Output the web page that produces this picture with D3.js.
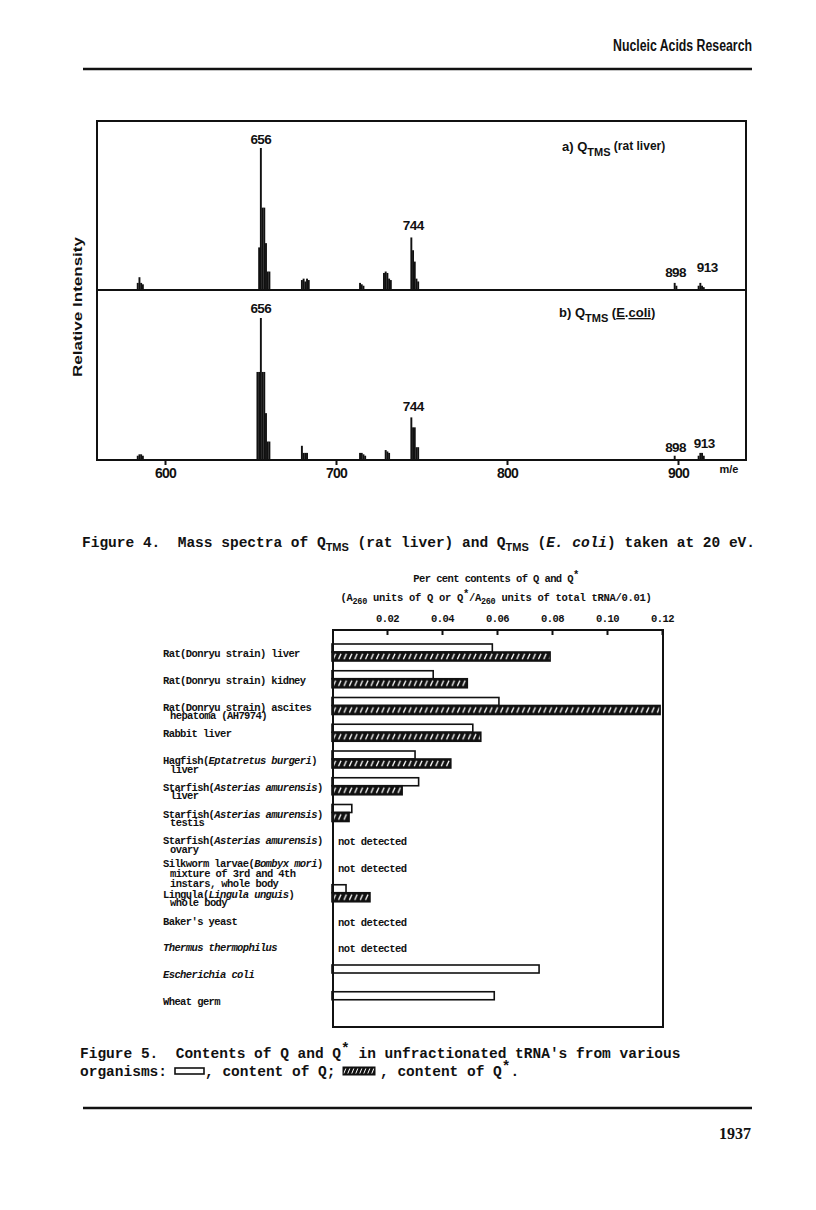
<!DOCTYPE html>
<html><head><meta charset="utf-8">
<script src="https://cdn.jsdelivr.net/npm/d3@7/dist/d3.min.js"></script>
<style>
html,body{margin:0;padding:0;background:#fff}
svg text{white-space:pre}
</style></head>
<body>
<svg id="page" width="816" height="1210" xmlns="http://www.w3.org/2000/svg"></svg>
<script>
// ===== Figure 4 data (m/e vs relative intensity, % of base peak) =====
const massTicks = [600, 700, 800, 900];
const ratLiverMz  = [584,585,586,587, 655,656,657,658,659,660,661, 680,681,682,683,684, 714,715,716, 728,729,730,731,732, 744,745,746,747,748, 898,899, 912,913,914,915];
const ratLiverInt = [5,9,5,4, 30,100,58,58,33,13,13, 7,8,6,8,7, 5,4,3, 12,13,12,8,7, 37,28,20,8,6, 5,3, 3,5,3,2];
const eColiMz  = [584,585,586,587, 654,655,656,657,658,659,660,661, 680,681,682,683, 714,715,716,717, 729,730,731, 744,745,746,747,748, 898, 912,913,914,915];
const eColiInt = [3,4,4,3, 62,62,100,62,62,33,13,13, 10,5,5,5, 5,5,4,3, 7,6,5, 30,23,23,9,9, 3, 3,5,5,3];
const labelledPeaks = [656, 744, 898, 913];

// ===== Figure 5 data (per cent contents, A260 units / total tRNA / 0.01) =====
const organisms = [
  ["Rat(Donryu strain) liver"],
  ["Rat(Donryu strain) kidney"],
  ["Rat(Donryu strain) ascites", "hepatoma (AH7974)"],
  ["Rabbit liver"],
  ["Hagfish(_Eptatretus burgeri_)", "liver"],
  ["Starfish(_Asterias amurensis_)", "liver"],
  ["Starfish(_Asterias amurensis_)", "testis"],
  ["Starfish(_Asterias amurensis_)", "ovary"],
  ["Silkworm larvae(_Bombyx mori_)", "mixture of 3rd and 4th", "instars, whole body"],
  ["Lingula(_Lingula unguis_)", "whole body"],
  ["Baker's yeast"],
  ["_Thermus thermophilus_"],
  ["_Escherichia coli_"],
  ["Wheat germ"]
];
const qContent     = [0.0583, 0.0368, 0.0607, 0.0512, 0.0302, 0.0315, 0.0072, null, null, 0.0051, null, null, 0.0753, 0.0590];
const qStarContent = [0.0793, 0.0492, 0.1193, 0.0541, 0.0432, 0.0255, 0.0062, null, null, 0.0138, null, null, null, null];
const contentTicks = [0.02, 0.04, 0.06, 0.08, 0.10, 0.12];

const SANS = "'Liberation Sans', Arial, Helvetica, sans-serif";
const MONO = "'Liberation Mono', 'Courier New', monospace";
const SERIF = "'Liberation Serif', 'Times New Roman', serif";
const INK = "#111";

const svg = d3.select("#page");
svg.append("rect").attr("width", 816).attr("height", 1210).attr("fill", "#fff");

function addRich(g, x, y, segs, base) {
  const t = g.append("text").attr("x", x).attr("y", y)
    .attr("font-family", base.family).attr("font-size", base.size)
    .attr("font-weight", base.weight || "normal").attr("fill", INK);
  if (base.anchor) t.attr("text-anchor", base.anchor);
  if (base.ls !== undefined) t.attr("letter-spacing", base.ls);
  let shift = 0;
  segs.forEach(s => {
    const ts = t.append("tspan").text(s.t);
    const target = s.shift || 0;
    if (target !== shift) { ts.attr("dy", target - shift); shift = target; }
    if (s.size) ts.attr("font-size", s.size);
    if (s.family) ts.attr("font-family", s.family);
    if (s.italic) ts.attr("font-style", "italic");
    if (s.ul) ts.attr("text-decoration", "underline");
    if (s.weight) ts.attr("font-weight", s.weight);
    if (s.ls !== undefined) ts.attr("letter-spacing", s.ls);
  });
  return t;
}
function parseItalic(str) {
  return str.split("_").map((t, i) => ({ t, italic: i % 2 === 1 })).filter(s => s.t.length);
}

// ===== Page header =====
svg.append("text").attr("x", 752).attr("y", 51).attr("text-anchor", "end")
  .attr("font-family", SANS).attr("font-size", 16).attr("font-weight", "bold").attr("fill", INK)
  .attr("textLength", 139).attr("lengthAdjust", "spacingAndGlyphs").text("Nucleic Acids Research");
svg.append("line").attr("x1", 83).attr("x2", 752).attr("y1", 69).attr("y2", 69)
  .attr("stroke", INK).attr("stroke-width", 2.5);

// ===== Figure 4: mass spectra =====
const f4 = svg.append("g");
const x4 = d3.scaleLinear().domain([600, 900]).range([165, 678]);
const panels = [
  { mz: ratLiverMz, inten: ratLiverInt, y: d3.scaleLinear().domain([0, 100]).range([290, 148]), base: 290 },
  { mz: eColiMz, inten: eColiInt, y: d3.scaleLinear().domain([0, 100]).range([460, 318]), base: 460 }
];
panels.forEach(p => {
  const data = p.mz.map((m, i) => ({ m, v: p.inten[i] }));
  f4.append("g").selectAll("rect").data(data).join("rect")
    .attr("x", d => x4(d.m - 0.5))
    .attr("width", d => x4(d.m + 0.5) - x4(d.m - 0.5) + 0.2)
    .attr("y", d => p.y(d.v))
    .attr("height", d => p.base - p.y(d.v))
    .attr("fill", INK);
});
f4.append("rect").attr("x", 97).attr("y", 121).attr("width", 649).attr("height", 339)
  .attr("fill", "none").attr("stroke", INK).attr("stroke-width", 2);
f4.append("line").attr("x1", 97).attr("x2", 746).attr("y1", 290).attr("y2", 290)
  .attr("stroke", INK).attr("stroke-width", 2);

function peakTop(p, m) { const i = p.mz.indexOf(m); return p.y(p.inten[i]); }
const labGap = [
  { 656: [0, 4], 744: [2, 7.5], 898: [1, 6], 913: [7, 11] },
  { 656: [0, 5], 744: [2, 6.5], 898: [1, 4], 913: [4, 5] }
];
panels.forEach((p, pi) => {
  f4.append("g").selectAll("text").data(labelledPeaks).join("text")
    .attr("x", m => x4(m) + labGap[pi][m][0])
    .attr("y", m => peakTop(p, m) - labGap[pi][m][1])
    .attr("text-anchor", "middle").attr("font-family", SANS).attr("font-size", 13.5)
    .attr("font-weight", "bold").attr("fill", INK).attr("letter-spacing", -0.6)
    .text(m => m);
});

addRich(f4, 562, 151, [
  { t: "a) Q" }, { t: "TMS", shift: 5, size: 11 }, { t: " (rat liver)", shift: -1, size: 12 }
], { family: SANS, size: 13, weight: "bold" });
addRich(f4, 559, 317, [
  { t: "b) Q" }, { t: "TMS", shift: 5, size: 11 }, { t: " (", shift: 0 }, { t: "E", ul: true }, { t: "." },
  { t: "coli", ul: true }, { t: ")" }
], { family: SANS, size: 13, weight: "bold" });

const ax4 = f4.append("g").attr("transform", "translate(0,460)")
  .call(d3.axisBottom(x4).tickValues(massTicks).tickSize(5).tickFormat(d3.format("d")));
ax4.select(".domain").remove();
ax4.selectAll(".tick line").attr("stroke", INK).attr("stroke-width", 2);
ax4.selectAll(".tick text").attr("y", 18).attr("dy", 0).attr("font-family", SANS)
  .attr("font-size", 14).attr("font-weight", "bold").attr("fill", INK).attr("letter-spacing", -0.8);
f4.append("text").attr("x", 729).attr("y", 473).attr("text-anchor", "middle")
  .attr("font-family", SANS).attr("font-size", 11).attr("font-weight", "bold").attr("fill", INK).text("m/e");

f4.append("text").attr("transform", "translate(82,307) rotate(-90)").attr("text-anchor", "middle")
  .attr("font-family", SANS).attr("font-size", 13).attr("font-weight", "bold").attr("fill", INK)
  .attr("textLength", 140).attr("lengthAdjust", "spacingAndGlyphs").text("Relative Intensity");

addRich(svg, 82, 547, [
  { t: "Figure 4.  Mass spectra of Q" }, { t: "TMS", shift: 4, size: 11, family: SANS },
  { t: " (rat liver) and Q" }, { t: "TMS", shift: 4, size: 11, family: SANS },
  { t: " (" }, { t: "E. coli", italic: true }, { t: ") taken at 20 eV." }
], { family: MONO, size: 14.5, weight: "bold" });

// ===== Figure 5: bar chart =====
const f5 = svg.append("g");
const LBL = { family: MONO, size: 10.5, weight: "bold", ls: -0.6 };
const FRAME_TOP = 630;
const x5 = d3.scaleLinear().domain([0, 0.12]).range([332, 662]);
const y5 = d3.scaleBand().domain(d3.range(organisms.length)).range([640, 640 + 26.75 * organisms.length]).padding(0);

addRich(f5, 496, 582, [{ t: "Per cent contents of Q and Q" }, { t: "*", shift: -4 }], { ...LBL, anchor: "middle" });
addRich(f5, 496, 601, [
  { t: "(A" }, { t: "260", shift: 3, size: 8.5 }, { t: " units of Q or Q" }, { t: "*", shift: -4 },
  { t: "/A" }, { t: "260", shift: 3, size: 8.5 }, { t: " units of total tRNA/0.01)" }
], { ...LBL, ls: -0.3, anchor: "middle" });

const defs = svg.append("defs");
const barH = 9;
qStarContent.forEach((v, i) => {
  if (v == null) return;
  const pat = defs.append("pattern").attr("id", "hatch" + i).attr("patternUnits", "userSpaceOnUse")
    .attr("x", x5(0)).attr("y", y5(i) + 12).attr("width", 5.4).attr("height", barH);
  pat.append("rect").attr("width", 5.4).attr("height", barH).attr("fill", INK);
  pat.append("line").attr("x1", 1.2).attr("y1", barH - 1.8).attr("x2", 3.6).attr("y2", 1.8)
    .attr("stroke", "#fff").attr("stroke-width", 1.3);
});

const rows = organisms.map((lab, i) => ({ i, lab, q: qContent[i], qs: qStarContent[i] }));
f5.append("g").selectAll("rect").data(rows.filter(d => d.q != null)).join("rect")
  .attr("x", x5(0)).attr("y", d => y5(d.i) + 4)
  .attr("width", d => x5(d.q) - x5(0)).attr("height", 8)
  .attr("fill", "#fff").attr("stroke", INK).attr("stroke-width", 1.6);
f5.append("g").selectAll("rect").data(rows.filter(d => d.qs != null)).join("rect")
  .attr("x", x5(0)).attr("y", d => y5(d.i) + 12)
  .attr("width", d => x5(d.qs) - x5(0)).attr("height", barH)
  .attr("fill", d => "url(#hatch" + d.i + ")").attr("stroke", INK).attr("stroke-width", 1.6);
f5.append("g").selectAll("text").data(rows.filter(d => d.q == null && d.qs == null)).join("text")
  .attr("x", 338).attr("y", d => y5(d.i) + 18)
  .attr("font-family", MONO).attr("font-size", 10.5).attr("font-weight", "bold")
  .attr("letter-spacing", -0.6).attr("fill", INK).text("not detected");

rows.forEach(d => {
  const n = d.lab.length;
  const first = y5(d.i) + (n === 3 ? 13 : 17);
  const step = n === 3 ? 10 : 8.5;
  d.lab.forEach((line, li) => {
    addRich(f5, 163 + (li > 0 ? 7 : 0), first + li * step, parseItalic(line), LBL);
  });
});

f5.append("rect").attr("x", 333).attr("y", FRAME_TOP).attr("width", 330).attr("height", 1027 - FRAME_TOP)
  .attr("fill", "none").attr("stroke", INK).attr("stroke-width", 2);
const ax5 = f5.append("g").attr("transform", "translate(0," + FRAME_TOP + ")")
  .call(d3.axisTop(x5).tickValues(contentTicks).tickSize(-5).tickFormat(d3.format(".2f")));
ax5.select(".domain").remove();
ax5.selectAll(".tick line").attr("stroke", INK).attr("stroke-width", 2);
ax5.selectAll(".tick text").attr("y", -8.5).attr("dy", 0).attr("font-family", MONO)
  .attr("font-size", 10.5).attr("font-weight", "bold").attr("letter-spacing", -0.6).attr("fill", INK);

const CAP = { family: MONO, size: 14.5, weight: "bold" };
const CAP_Y1 = 1058, CAP_Y2 = 1076;
addRich(svg, 80, CAP_Y1, [
  { t: "Figure 5.  Contents of Q and Q" }, { t: "*", shift: -5 }, { t: " in unfractionated tRNA's from various" }
], CAP);
addRich(svg, 80, CAP_Y2, [{ t: "organisms:" }], CAP);
svg.append("rect").attr("x", 175).attr("y", CAP_Y2 - 8).attr("width", 29).attr("height", 6)
  .attr("fill", "#fff").attr("stroke", INK).attr("stroke-width", 1.6);
addRich(svg, 205, CAP_Y2, [{ t: ", content of Q;" }], CAP);
defs.append("pattern").attr("id", "hatchLegend").attr("patternUnits", "userSpaceOnUse")
  .attr("x", 343).attr("y", CAP_Y2 - 9).attr("width", 4).attr("height", 8)
  .call(p => {
    p.append("rect").attr("width", 4).attr("height", 8).attr("fill", INK);
    p.append("line").attr("x1", 0.8).attr("y1", 6.5).attr("x2", 2.8).attr("y2", 1.5)
      .attr("stroke", "#fff").attr("stroke-width", 1);
  });
svg.append("rect").attr("x", 343).attr("y", CAP_Y2 - 9).attr("width", 32).attr("height", 8)
  .attr("fill", "url(#hatchLegend)").attr("stroke", INK).attr("stroke-width", 1);
addRich(svg, 380, CAP_Y2, [{ t: ", content of Q" }, { t: "*", shift: -5 }, { t: "." }], CAP);

svg.append("line").attr("x1", 83).attr("x2", 752).attr("y1", 1108).attr("y2", 1108)
  .attr("stroke", INK).attr("stroke-width", 2.5);
svg.append("text").attr("x", 751).attr("y", 1139).attr("text-anchor", "end")
  .attr("font-family", SERIF).attr("font-size", 16).attr("font-weight", "bold").attr("fill", INK).text("1937");
</script>
</body></html>
